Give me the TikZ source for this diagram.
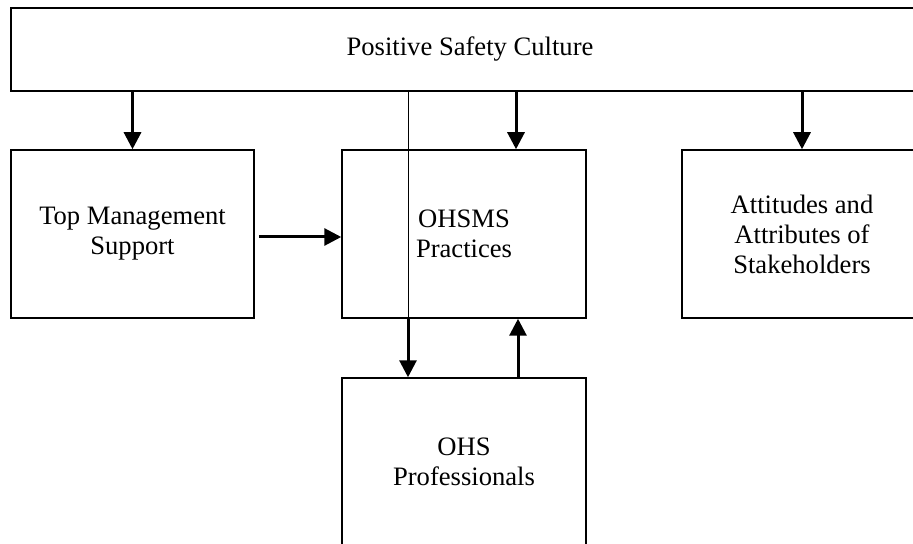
\documentclass[tikz,border=0pt]{standalone}
\usepackage{fontspec}
\setmainfont{Liberation Serif}
\usepackage{tikz}
\usetikzlibrary{arrows.meta}

\begin{document}
\begin{tikzpicture}[x=0.5pt, y=-0.5pt,
    box/.style={draw, line width=0.75pt, align=center, minimum height=84pt,
        font=\fontsize{13.3}{15}\selectfont},
    link/.style={line width=1.5pt, -{Triangle[length=8.5pt, width=8.5pt]}},
    guide/.style={line width=0.5pt}]
    \path [use as bounding box, clip] (0, 0) rectangle (913, 544);

    % Top
    \node [box, minimum width=459pt, minimum height=41.5pt] (culture) at (470, 49.5) {Positive Safety Culture};

    % Boxes
    \node [box, minimum width=121.5pt] (mgmt) at (132.5, 234) {Top Management\\Support};
    \node [box, minimum width=122pt] (ohsms) at (464, 234) {OHSMS\\Practices};
    \node [box, minimum width=120pt] (stake) at (802, 234) {Attitudes and\\Attributes of\\Stakeholders};
    \node [box, minimum width=122pt] (prof) at (464, 462) {OHS\\Professionals};

    % Arrows
    \draw [link] (mgmt.north |- culture.south) -- (mgmt.north);
    \draw [link] ([xshift=26pt]ohsms.north |- culture.south) -- ([xshift=26pt]ohsms.north);
    \draw [link] (stake.north |- culture.south) -- (stake.north);
    \draw [link] ([xshift=2pt, yshift=-1.5pt]mgmt.east) -- ([yshift=-1.5pt]ohsms.west);
    \draw [guide] ([xshift=-28pt]ohsms.south |- culture.south) -- ([xshift=-28pt]ohsms.south);
    \draw [link] ([xshift=-28pt]ohsms.south) -- ([xshift=-28pt]prof.north);
    \draw [link] ([xshift=27pt]prof.north) -- ([xshift=27pt]ohsms.south);
\end{tikzpicture}
\end{document}
